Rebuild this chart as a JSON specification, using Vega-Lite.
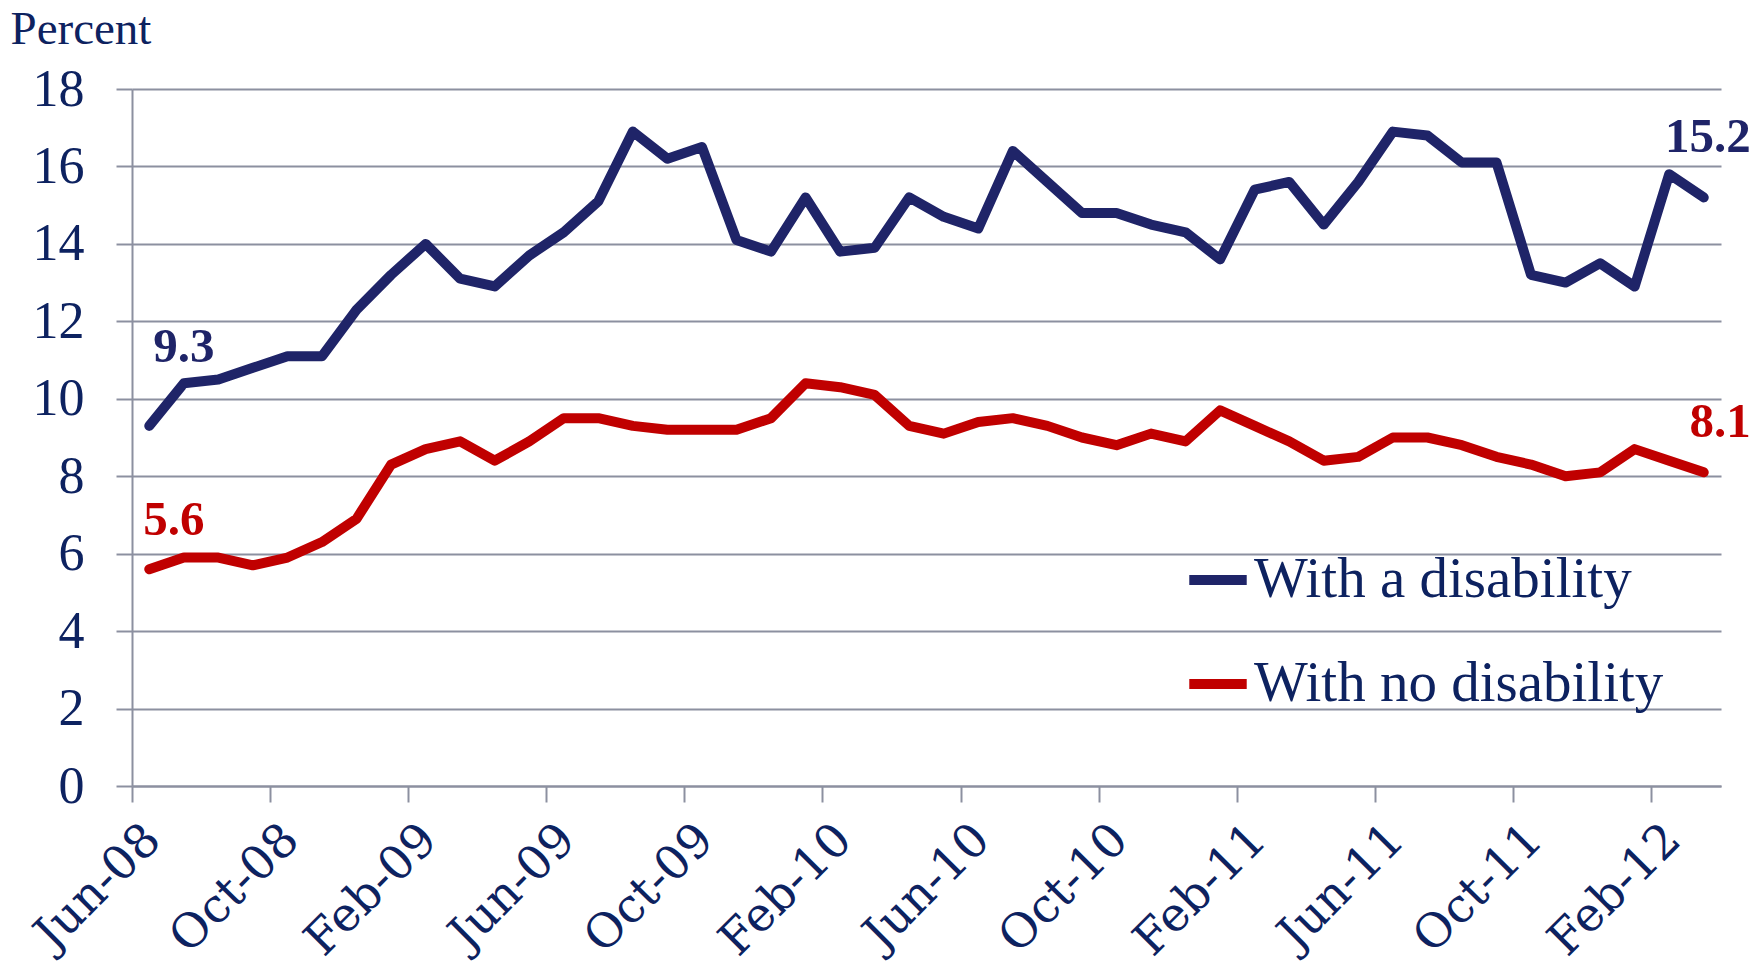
{
  "$schema": "https://vega.github.io/schema/vega-lite/v6.json",
  "autosize": "none",
  "width": 1589,
  "height": 697,
  "padding": {"left": 132, "top": 89, "right": 35, "bottom": 187},
  "background": "white",
  "config": {
    "view": {"stroke": null},
    "font": "Liberation Serif",
    "axis": {
      "labelFont": "Liberation Serif",
      "titleFont": "Liberation Serif",
      "labelColor": "#0D2260",
      "titleColor": "#0D2260",
      "domainColor": "#8C90A0",
      "domainWidth": 2,
      "tickColor": "#8C90A0",
      "tickWidth": 2,
      "gridColor": "#8C90A0",
      "gridWidth": 2
    }
  },
  "data": {
    "values": [
      {"month": "Jun-08", "With a disability": 9.3, "With no disability": 5.6},
      {"month": "Jul-08", "With a disability": 10.4, "With no disability": 5.9},
      {"month": "Aug-08", "With a disability": 10.5, "With no disability": 5.9},
      {"month": "Sep-08", "With a disability": 10.8, "With no disability": 5.7},
      {"month": "Oct-08", "With a disability": 11.1, "With no disability": 5.9},
      {"month": "Nov-08", "With a disability": 11.1, "With no disability": 6.3},
      {"month": "Dec-08", "With a disability": 12.3, "With no disability": 6.9},
      {"month": "Jan-09", "With a disability": 13.2, "With no disability": 8.3},
      {"month": "Feb-09", "With a disability": 14.0, "With no disability": 8.7},
      {"month": "Mar-09", "With a disability": 13.1, "With no disability": 8.9},
      {"month": "Apr-09", "With a disability": 12.9, "With no disability": 8.4},
      {"month": "May-09", "With a disability": 13.7, "With no disability": 8.9},
      {"month": "Jun-09", "With a disability": 14.3, "With no disability": 9.5},
      {"month": "Jul-09", "With a disability": 15.1, "With no disability": 9.5},
      {"month": "Aug-09", "With a disability": 16.9, "With no disability": 9.3},
      {"month": "Sep-09", "With a disability": 16.2, "With no disability": 9.2},
      {"month": "Oct-09", "With a disability": 16.5, "With no disability": 9.2},
      {"month": "Nov-09", "With a disability": 14.1, "With no disability": 9.2},
      {"month": "Dec-09", "With a disability": 13.8, "With no disability": 9.5},
      {"month": "Jan-10", "With a disability": 15.2, "With no disability": 10.4},
      {"month": "Feb-10", "With a disability": 13.8, "With no disability": 10.3},
      {"month": "Mar-10", "With a disability": 13.9, "With no disability": 10.1},
      {"month": "Apr-10", "With a disability": 15.2, "With no disability": 9.3},
      {"month": "May-10", "With a disability": 14.7, "With no disability": 9.1},
      {"month": "Jun-10", "With a disability": 14.4, "With no disability": 9.4},
      {"month": "Jul-10", "With a disability": 16.4, "With no disability": 9.5},
      {"month": "Aug-10", "With a disability": 15.6, "With no disability": 9.3},
      {"month": "Sep-10", "With a disability": 14.8, "With no disability": 9.0},
      {"month": "Oct-10", "With a disability": 14.8, "With no disability": 8.8},
      {"month": "Nov-10", "With a disability": 14.5, "With no disability": 9.1},
      {"month": "Dec-10", "With a disability": 14.3, "With no disability": 8.9},
      {"month": "Jan-11", "With a disability": 13.6, "With no disability": 9.7},
      {"month": "Feb-11", "With a disability": 15.4, "With no disability": 9.3},
      {"month": "Mar-11", "With a disability": 15.6, "With no disability": 8.9},
      {"month": "Apr-11", "With a disability": 14.5, "With no disability": 8.4},
      {"month": "May-11", "With a disability": 15.6, "With no disability": 8.5},
      {"month": "Jun-11", "With a disability": 16.9, "With no disability": 9.0},
      {"month": "Jul-11", "With a disability": 16.8, "With no disability": 9.0},
      {"month": "Aug-11", "With a disability": 16.1, "With no disability": 8.8},
      {"month": "Sep-11", "With a disability": 16.1, "With no disability": 8.5},
      {"month": "Oct-11", "With a disability": 13.2, "With no disability": 8.3},
      {"month": "Nov-11", "With a disability": 13.0, "With no disability": 8.0},
      {"month": "Dec-11", "With a disability": 13.5, "With no disability": 8.1},
      {"month": "Jan-12", "With a disability": 12.9, "With no disability": 8.7},
      {"month": "Feb-12", "With a disability": 15.8, "With no disability": 8.4},
      {"month": "Mar-12", "With a disability": 15.2, "With no disability": 8.1}
    ]
  },
  "transform": [
    {"fold": ["With a disability", "With no disability"], "as": ["series", "value"]}
  ],
  "encoding": {
    "x": {
      "field": "month",
      "type": "ordinal",
      "sort": null,
      "bandPosition": 0.5,
      "scale": {"type": "band", "paddingInner": 0, "paddingOuter": 0},
      "axis": {
        "title": null,
        "values": ["Jun-08", "Oct-08", "Feb-09", "Jun-09", "Oct-09", "Feb-10", "Jun-10", "Oct-10", "Feb-11", "Jun-11", "Oct-11", "Feb-12"],
        "bandPosition": 0,
        "labelAngle": -45,
        "labelAlign": "right",
        "labelBaseline": "middle",
        "labelFont": "DejaVu Serif",
        "labelFontSize": 47,
        "labelOffset": 4,
        "labelPadding": 30,
        "labelOverlap": false,
        "labelBound": false,
        "labelFlush": false,
        "tickSize": 16,
        "grid": false,
        "domain": true
      }
    },
    "y": {
      "field": "value",
      "type": "quantitative",
      "scale": {"domain": [0, 18], "nice": false, "zero": true},
      "axis": {
        "values": [0, 2, 4, 6, 8, 10, 12, 14, 16, 18],
        "title": "Percent",
        "titleAngle": 0,
        "titleAlign": "left",
        "titleBaseline": "alphabetic",
        "titleX": -122,
        "titleY": -46,
        "titleFontSize": 47,
        "titleFontWeight": "normal",
        "labelFontSize": 52,
        "labelPadding": 32,
        "tickSize": 16,
        "grid": true,
        "domain": true
      }
    }
  },
  "layer": [
    {
      "mark": {"type": "line", "strokeWidth": 10, "strokeCap": "round", "strokeJoin": "round"},
      "encoding": {
        "color": {
          "field": "series",
          "type": "nominal",
          "scale": {"domain": ["With a disability", "With no disability"], "range": ["#1F2468", "#C00000"]},
          "legend": {
            "title": null,
            "orient": "none",
            "legendX": 1052,
            "legendY": 457,
            "padding": 0,
            "symbolType": "stroke",
            "symbolSize": 3300,
            "symbolStrokeWidth": 10,
            "labelFont": "Liberation Serif",
            "labelFontSize": 57,
            "labelColor": "#0D2260",
            "labelOffset": 2,
            "labelLimit": 600,
            "rowPadding": 42
          }
        }
      }
    },
    {
      "transform": [{"filter": "datum.series === 'With a disability' && datum.month === 'Jun-08'"}],
      "mark": {"type": "text", "fontSize": 49, "fontWeight": "bold", "font": "Liberation Serif", "color": "#1F2468", "align": "left", "baseline": "alphabetic", "dx": 4, "dy": -64},
      "encoding": {"text": {"field": "value", "type": "quantitative", "format": ".1f"}}
    },
    {
      "transform": [{"filter": "datum.series === 'With no disability' && datum.month === 'Jun-08'"}],
      "mark": {"type": "text", "fontSize": 49, "fontWeight": "bold", "font": "Liberation Serif", "color": "#C00000", "align": "left", "baseline": "alphabetic", "dx": -6, "dy": -34},
      "encoding": {"text": {"field": "value", "type": "quantitative", "format": ".1f"}}
    },
    {
      "transform": [{"filter": "datum.series === 'With a disability' && datum.month === 'Mar-12'"}],
      "mark": {"type": "text", "fontSize": 49, "fontWeight": "bold", "font": "Liberation Serif", "color": "#1F2468", "align": "right", "baseline": "alphabetic", "dx": 47, "dy": -45},
      "encoding": {"text": {"field": "value", "type": "quantitative", "format": ".1f"}}
    },
    {
      "transform": [{"filter": "datum.series === 'With no disability' && datum.month === 'Mar-12'"}],
      "mark": {"type": "text", "fontSize": 49, "fontWeight": "bold", "font": "Liberation Serif", "color": "#C00000", "align": "right", "baseline": "alphabetic", "dx": 47, "dy": -35},
      "encoding": {"text": {"field": "value", "type": "quantitative", "format": ".1f"}}
    }
  ]
}
